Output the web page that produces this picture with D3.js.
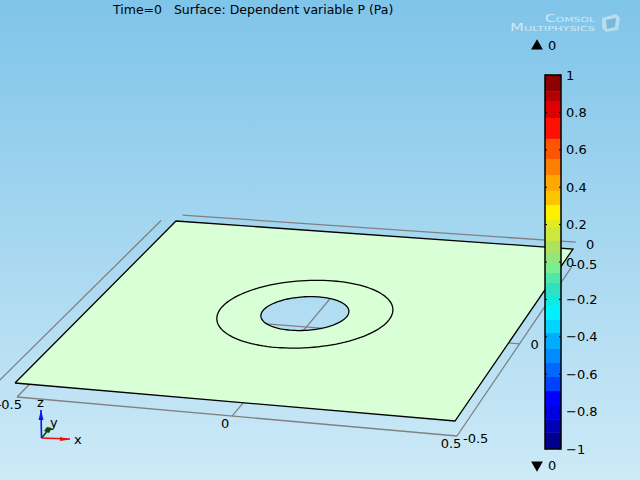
<!DOCTYPE html>
<html>
<head>
<meta charset="utf-8">
<script src="https://cdn.jsdelivr.net/npm/d3@7"></script>
<style>
  html, body { margin: 0; padding: 0; overflow: hidden; }
  svg { display: block; }
  text { font-family: "DejaVu Sans", sans-serif; font-size: 13px; fill: #000; }
</style>
</head>
<body>
<div id="chart"></div>
<script>
const titleText = "Time=0\u00a0\u00a0\u00a0Surface: Dependent variable P (Pa)";
const maxLabel = "0";
const minLabel = "0";

// plate, in model units
const plateExtent = [-0.5, 0.5];
const circleRadii = [0.1, 0.2];

// grey axis frame under the plate
const gridSegments = [
  [[-0.5, -0.5], [0.5, -0.5]],
  [[0.5, -0.5], [0.5, 0.47]],
  [[0, -0.5], [0, 0.5]],
  [[-0.5, 0], [0.5, 0]],
  [[-0.5, -0.5], [-0.5, 0.5]],
  [[-0.575, -0.72], [-0.575, 0.58]],
  [[-0.535, 0.625], [0.47, 0.625]]
];

// colour bar
const barTicks = [1, 0.8, 0.6, 0.4, 0.2, 0, -0.2, -0.4, -0.6, -0.8, -1];
const barStops = [1, 0.914, 0.861, 0.77, 0.658, 0.551, 0.465, 0.38, 0.305, 0.225, 0.187, 0.112, 0.048,
  -0.005, -0.059, -0.112, -0.176, -0.23, -0.31, -0.38, -0.465, -0.54, -0.615, -0.69, -0.77, -0.84, -0.914, -1];
const barColors = ["#8c0000", "#b40000", "#dc0000", "#ff1000", "#ff5500", "#ff8000", "#ffa800", "#ffc400",
  "#fff000", "#e0ec20", "#cce83c", "#aee25e", "#92e67a", "#78ee90", "#50e8a8", "#30e0c0", "#10e8e0",
  "#00f0ff", "#00d4ff", "#00acff", "#008cff", "#0068ff", "#0040ff", "#0000ff", "#0000e0", "#0000b4", "#00008c"];

const width = 640;
const height = 480;

// map the unit square onto a screen quad (perspective view)
function quadMap(p00, p10, p11, p01) {
  const dx1 = p10[0] - p11[0], dx2 = p01[0] - p11[0], sx = p00[0] - p10[0] + p11[0] - p01[0];
  const dy1 = p10[1] - p11[1], dy2 = p01[1] - p11[1], sy = p00[1] - p10[1] + p11[1] - p01[1];
  const den = dx1 * dy2 - dx2 * dy1;
  const g = (sx * dy2 - dx2 * sy) / den;
  const h = (dx1 * sy - sx * dy1) / den;
  const a = p10[0] - p00[0] + g * p10[0], b = p01[0] - p00[0] + h * p01[0], c = p00[0];
  const d = p10[1] - p00[1] + g * p10[1], e = p01[1] - p00[1] + h * p01[1], f = p00[1];
  const unit = d3.scaleLinear().domain(plateExtent).range([0, 1]);
  return ([x, y]) => {
    const u = unit(x), v = unit(y), w = g * u + h * v + 1;
    return [(a * u + b * v + c) / w, (d * u + e * v + f) / w];
  };
}

const plateView = quadMap([15, 383], [455, 421], [573, 249], [176, 221]);
const frameView = quadMap([17, 397], [457, 436], [575, 262], [178, 234]);

const svg = d3.select("#chart").append("svg").attr("width", width).attr("height", height);

// background
const defs = svg.append("defs");
const bg = defs.append("linearGradient").attr("id", "bg").attr("x1", 0).attr("y1", 0).attr("x2", 0).attr("y2", 1);
bg.append("stop").attr("offset", 0).attr("stop-color", "#7fc4e9");
bg.append("stop").attr("offset", 1).attr("stop-color", "#cdeaf7");
svg.append("rect").attr("width", width).attr("height", height).attr("fill", "url(#bg)");

svg.append("text").attr("x", 113).attr("y", 14).style("font-size", "12.5px").text(titleText);

// logo
const logo = svg.append("g").attr("fill", "#cfe9f5");
logo.append("text").attr("x", 545).attr("y", 22).attr("textLength", 50).attr("lengthAdjust", "spacingAndGlyphs")
  .style("font-size", "10px").style("fill", "#cfe9f5").style("font-variant", "small-caps").text("Comsol");
logo.append("text").attr("x", 510).attr("y", 31).attr("textLength", 85).attr("lengthAdjust", "spacingAndGlyphs")
  .style("font-size", "10px").style("fill", "#cfe9f5").style("font-variant", "small-caps").text("Multiphysics");
logo.append("path").attr("d", "M602,18 L616,14 L620,18 L618,30 L606,32 L602,28 Z").attr("fill", "#b8dcee");
logo.append("path").attr("d", "M606,20 L616,18 L615,27 L607,29 Z").attr("fill", "#5ea8cf").attr("opacity", 0.7);

// axis frame, under the plate
const line = d3.line();
const plateLine = d3.line().x(d => plateView(d)[0]).y(d => plateView(d)[1]);
svg.append("g").selectAll("path").data(gridSegments).join("path")
  .attr("d", d => line(d.map(frameView)))
  .attr("fill", "none").attr("stroke", "#808080").attr("stroke-width", 1.3);

// plate with hole
const circlePoints = r => d3.range(0, 361, 3).map(a => [r * Math.cos(a * Math.PI / 180), r * Math.sin(a * Math.PI / 180)]);
const [lo, hi] = plateExtent;
const plateOutline = [[lo, lo], [hi, lo], [hi, hi], [lo, hi], [lo, lo]];
svg.append("path")
  .attr("d", plateLine(plateOutline) + plateLine(circlePoints(circleRadii[0])) + "Z")
  .attr("fill", "#d9ffd6").attr("fill-rule", "evenodd");
svg.append("path").attr("d", plateLine(plateOutline))
  .attr("fill", "none").attr("stroke", "#000").attr("stroke-width", 1.3);
svg.selectAll(".circle").data(circleRadii).join("path").attr("class", "circle")
  .attr("d", r => plateLine(circlePoints(r)))
  .attr("fill", "none").attr("stroke", "#000").attr("stroke-width", 1.3);

// frame tick labels
const axisLabels = [
  { x: -0.5, y: -0.5, t: "-0.5", dx: 5, dy: 12, a: "end" },
  { x: 0, y: -0.5, t: "0", dx: -7, dy: 12, a: "middle" },
  { x: 0.5, y: -0.5, t: "0.5", dx: -6, dy: 12, a: "middle" },
  { x: 0.5, y: -0.5, t: "-0.5", dx: 6, dy: 7, a: "start" },
  { x: 0.5, y: 0, t: "0", dx: 15, dy: 5, a: "middle" },
  { x: 0.5, y: 0.5, t: "-0.5", dx: -3, dy: 7, a: "start" }
];
axisLabels.forEach(l => {
  const p = frameView([l.x, l.y]);
  svg.append("text").attr("x", p[0] + l.dx).attr("y", p[1] + l.dy).attr("text-anchor", l.a).text(l.t);
});
svg.append("text").attr("x", 586).attr("y", 249).text("0");

// colour bar
const barY = d3.scaleLinear().domain([1, -1]).range([75, 449]);
const barX = 545, barW = 16;
const bar = svg.append("g");
bar.selectAll("rect").data(barColors).join("rect")
  .attr("x", barX).attr("width", barW)
  .attr("y", (d, i) => barY(barStops[i]))
  .attr("height", (d, i) => barY(barStops[i + 1]) - barY(barStops[i]))
  .attr("fill", d => d);
bar.append("rect").attr("x", barX).attr("y", barY(1)).attr("width", barW).attr("height", barY(-1) - barY(1))
  .attr("fill", "none").attr("stroke", "#000").attr("stroke-width", 1.5);
bar.selectAll(".mark").data(barTicks).join("path").attr("class", "mark")
  .attr("d", d => `M${barX},${barY(d)}h2M${barX + barW},${barY(d)}h-2`)
  .attr("stroke", "#000").attr("fill", "none");
const barAxis = svg.append("g").attr("transform", `translate(${barX + barW + 5},0)`)
  .call(d3.axisRight(barY).tickValues(barTicks).tickSize(0).tickPadding(0).tickFormat(d3.format("")));
barAxis.select(".domain").remove();
barAxis.selectAll("text").style("font-family", "DejaVu Sans").style("font-size", "13px").attr("fill", "#000");

// max and min markers
svg.append("path").attr("d", d3.symbol(d3.symbolTriangle, 60)()).attr("transform", "translate(537,46)").attr("fill", "#000");
svg.append("text").attr("x", 548).attr("y", 50).text(maxLabel);
svg.append("path").attr("d", d3.symbol(d3.symbolTriangle, 60)()).attr("transform", "translate(537,465) rotate(180)").attr("fill", "#000");
svg.append("text").attr("x", 548).attr("y", 470).text(minLabel);

// coordinate triad
const triad = [
  { to: [70, 439], color: "#e81010", head: [[60, 437], [70, 439.5], [60, 441]], label: "x", lx: 74, ly: 444 },
  { to: [50, 428], color: "#0a4a12", head: [[44, 431], [47, 427], [52, 428], [49, 433]], label: "y", lx: 50, ly: 427 },
  { to: [41, 410], color: "#0a18e0", head: [[38.5, 420], [41, 410], [43.5, 420]], label: "z", lx: 37, ly: 407 }
];
const origin = [41.5, 438];
triad.forEach(t => {
  svg.append("path").attr("d", line([origin, t.to])).attr("stroke", t.color).attr("stroke-width", 1.6).attr("fill", "none");
  svg.append("path").attr("d", line(t.head) + "Z").attr("fill", t.color);
  svg.append("text").attr("x", t.lx).attr("y", t.ly).text(t.label);
});
</script>
</body>
</html>
